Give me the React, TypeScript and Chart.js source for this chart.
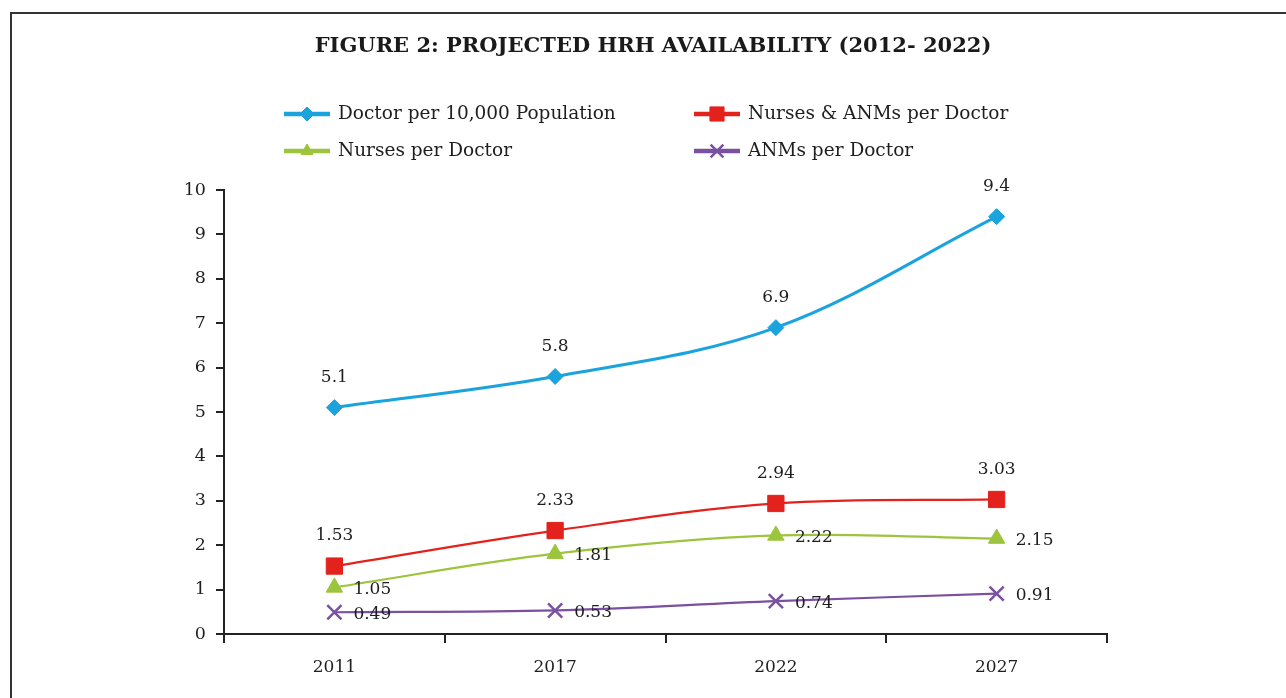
import React, { useEffect, useRef } from "react";
import { Chart, registerables } from "chart.js";
import { drawPoint } from "chart.js/helpers";

Chart.register(...registerables);

const titleText = "FIGURE 2: PROJECTED HRH AVAILABILITY (2012- 2022)";
const categories = ["2011", "2017", "2022", "2027"];
const seriesNames = [
  "Doctor per 10,000 Population",
  "Nurses & ANMs per Doctor",
  "Nurses per Doctor",
  "ANMs per Doctor",
];
const doctorsPer10k = [5.1, 5.8, 6.9, 9.4];
const nursesAnmsPerDoctor = [1.53, 2.33, 2.94, 3.03];
const nursesPerDoctor = [1.05, 1.81, 2.22, 2.15];
const anmsPerDoctor = [0.49, 0.53, 0.74, 0.91];
const yMin = 0;
const yMax = 10;
const yStep = 1;

const FONT = "'DejaVu Serif', serif";
const TEXT = "#1e1e1e";

const seriesStyles = [
  { color: "#1ba3dd", pointStyle: "rectRot", radius: 8, lineWidth: 3, labelPos: "top", legendRadius: 7 },
  { color: "#e4221d", pointStyle: "rect", radius: 11.5, lineWidth: 2.2, labelPos: "top", legendRadius: 10 },
  { color: "#9cc43c", pointStyle: "triangle", radius: 9.5, lineWidth: 2.2, labelPos: "right", legendRadius: 7 },
  { color: "#7a50a0", pointStyle: "crossRot", radius: 10, lineWidth: 2.2, labelPos: "right", legendRadius: 9 },
];

const seriesValues = [doctorsPer10k, nursesAnmsPerDoctor, nursesPerDoctor, anmsPerDoctor];

const valueLabelPlugin = {
  id: "valueLabels",
  afterDatasetsDraw(chart: any) {
    const ctx = chart.ctx;
    ctx.save();
    ctx.font = `17px ${FONT}`;
    ctx.fillStyle = TEXT;
    chart.data.datasets.forEach((ds: any, i: number) => {
      const meta = chart.getDatasetMeta(i);
      const pos = seriesStyles[i].labelPos;
      meta.data.forEach((pt: any, j: number) => {
        const txt = String(ds.data[j]);
        ctx.textBaseline = "middle";
        if (pos === "top") {
          ctx.textAlign = "center";
          ctx.fillText(txt, pt.x, pt.y - 30);
        } else {
          ctx.textAlign = "left";
          ctx.fillText(txt, pt.x + 19, pt.y + 2);
        }
      });
    });
    ctx.restore();
  },
};

const headerPlugin = {
  id: "header",
  afterDraw(chart: any) {
    const ctx = chart.ctx;
    ctx.save();
    // title
    ctx.fillStyle = "#1a1a1a";
    ctx.font = `bold 21px ${FONT}`;
    ctx.textAlign = "center";
    ctx.textBaseline = "middle";
    ctx.fillText(titleText, 653, 47);

    // legend
    const colX = [284, 694];
    const rowY = [114, 151];
    chart.data.datasets.forEach((ds: any, i: number) => {
      const st = seriesStyles[i];
      const x = colX[i % 2];
      const y = rowY[Math.floor(i / 2)];
      ctx.strokeStyle = st.color;
      ctx.fillStyle = st.color;
      ctx.lineWidth = 4.5;
      ctx.beginPath();
      ctx.moveTo(x, y);
      ctx.lineTo(x + 46, y);
      ctx.stroke();
      ctx.lineWidth = st.pointStyle === "crossRot" ? 2.5 : 1;
      drawPoint(
        ctx,
        { pointStyle: st.pointStyle, radius: st.legendRadius, rotation: 0, borderWidth: ctx.lineWidth } as any,
        x + 23,
        y
      );
      ctx.fillStyle = TEXT;
      ctx.font = `18.5px ${FONT}`;
      ctx.textAlign = "left";
      ctx.textBaseline = "middle";
      ctx.fillText(ds.label, x + 54, y);
    });
    ctx.restore();
  },
};

export default function App() {
  const canvasRef = useRef<HTMLCanvasElement | null>(null);

  useEffect(() => {
    if (!canvasRef.current) return;
    const chart = new Chart(canvasRef.current, {
      type: "line",
      data: {
        labels: categories,
        datasets: seriesNames.map((name, i) => ({
          label: name,
          data: seriesValues[i],
          borderColor: seriesStyles[i].color,
          backgroundColor: seriesStyles[i].color,
          pointBackgroundColor: seriesStyles[i].color,
          pointBorderColor: seriesStyles[i].color,
          pointStyle: seriesStyles[i].pointStyle as any,
          pointRadius: seriesStyles[i].radius,
          pointBorderWidth: seriesStyles[i].pointStyle === "crossRot" ? 2.5 : 1,
          borderWidth: seriesStyles[i].lineWidth,
          tension: 0.35,
          fill: false,
        })),
      },
      options: {
        responsive: false,
        animation: false,
        layout: { padding: { left: 164, right: 179, top: 190, bottom: 0 } },
        plugins: {
          legend: { display: false },
          tooltip: { enabled: false },
          title: { display: false },
        },
        scales: {
          x: {
            offset: true,
            grid: {
              offset: true,
              drawOnChartArea: false,
              drawTicks: true,
              tickLength: 9,
              color: "#222",
              lineWidth: 2,
            },
            border: { display: true, color: "#222", width: 2 },
            ticks: { color: TEXT, font: { family: FONT, size: 17 }, padding: 14 },
            afterFit: (scale: any) => {
              scale.height = 64;
            },
          },
          y: {
            min: yMin,
            max: yMax,
            grid: {
              drawOnChartArea: false,
              drawTicks: true,
              tickLength: 8,
              color: "#222",
              lineWidth: 2,
            },
            border: { display: true, color: "#222", width: 2 },
            ticks: { stepSize: yStep, color: TEXT, font: { family: FONT, size: 17.5 }, padding: 10 },
            afterFit: (scale: any) => {
              scale.width = 60;
            },
          },
        },
      },
      plugins: [valueLabelPlugin, headerPlugin],
    });
    return () => chart.destroy();
  }, []);

  return (
    <div style={{ position: "fixed", left: 0, top: 0, width: 1286, height: 698, background: "#fff", overflow: "hidden" }}>
      <div
        style={{
          position: "absolute",
          left: 10,
          top: 12,
          width: 1300,
          height: 720,
          border: "2px solid #333",
          boxSizing: "border-box",
        }}
      />
      <canvas
        ref={canvasRef}
        width={1286}
        height={698}
        style={{ position: "absolute", left: 0, top: 0, width: 1286, height: 698 }}
      />
    </div>
  );
}
